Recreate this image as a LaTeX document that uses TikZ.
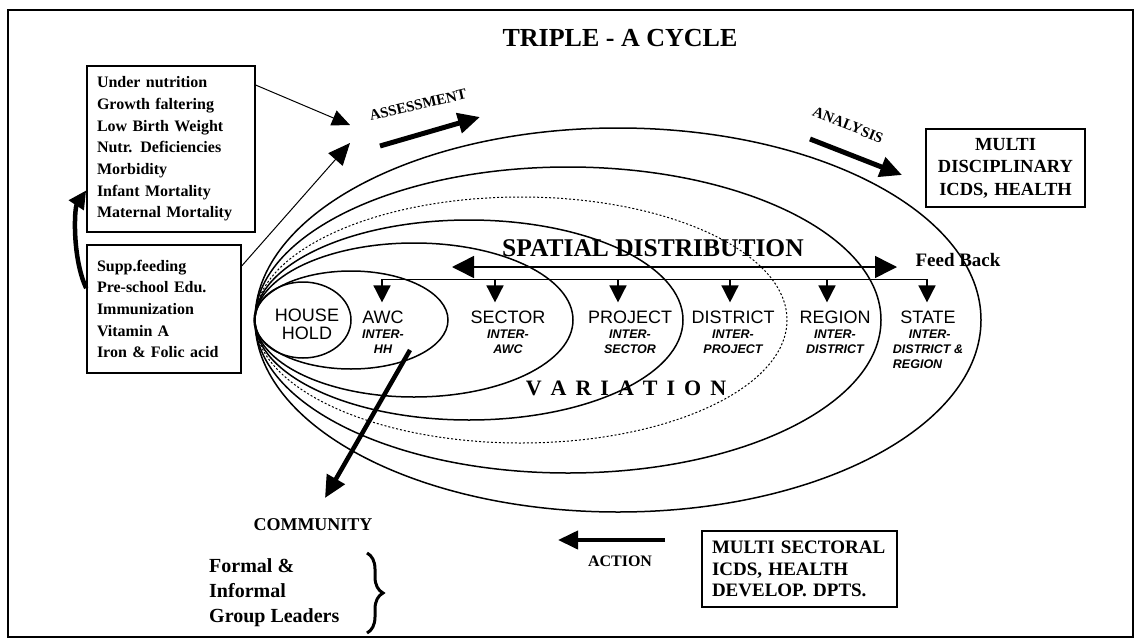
\documentclass[tikz,border=0pt]{standalone}
\usepackage{fontspec}
\setmainfont{Liberation Serif}
\setsansfont{Liberation Sans}
\usetikzlibrary{arrows.meta,positioning,calc,decorations.pathreplacing}

\newcommand{\setfs}[2]{\fontsize{#1pt}{#2pt}\selectfont}

\begin{document}
\begin{tikzpicture}[x=1pt,y=-1pt,
      every node/.style={inner sep=1pt},
      box/.style={draw,line width=1.6pt,inner xsep=10pt,inner ysep=4pt},
      lst/.style={font=\bfseries\setfs{16}{21.7},align=left},
      tag/.style={font=\sffamily\setfs{18}{18}},
      sub/.style={font=\sffamily\bfseries\itshape\setfs{12.5}{15},align=center},
      ring/.style={line width=1.5pt},
      thin/.style={-{Triangle[length=18pt,width=16pt]},line width=1pt},
      fat/.style={-{Triangle[length=22pt,width=20pt]},line width=5pt},
      drop/.style={-{Triangle[length=17pt,width=17pt]},line width=1.5pt},
    ]
      \useasboundingbox (0,0) rectangle (1140,640);
      \draw[line width=2pt] (8,10) rectangle (1133,637);

      \node[font=\bfseries\setfs{26}{30}] (title) at (620,38) {TRIPLE - A CYCLE};

      % nested levels, all meeting at the household end
      \foreach \cx/\rx/\ry in {303/48/38,351/97/49,414/159/77,469/214/100,568/313/153,618/363/192}
        \draw[ring] (\cx,320) ellipse [x radius=\rx,y radius=\ry];
      \draw[line width=1pt,dash pattern=on 2pt off 2pt] (521,320) ellipse [x radius=266,y radius=123];

      \node[tag,align=center] (hh)       at (307,324) {HOUSE\\HOLD};
      \node[tag]              (awc)      at (383,317) {AWC};
      \node[tag]              (sector)   at (508,317) {SECTOR};
      \node[tag]              (project)  at (630,317) {PROJECT};
      \node[tag]              (district) at (733,317) {DISTRICT};
      \node[tag]              (region)   at (835,317) {REGION};
      \node[tag]              (state)    at (928,317) {STATE};

      \node[sub,below=4pt of awc]      (awcs)  {INTER-\\HH};
      \node[sub,below=4pt of sector]   (secs)  {INTER-\\AWC};
      \node[sub,below=4pt of project]  (pros)  {INTER-\\SECTOR};
      \node[sub,below=4pt of district] (diss)  {INTER-\\PROJECT};
      \node[sub,below=4pt of region]   (regs)  {INTER-\\DISTRICT};
      \node[sub,align=left,below=4pt of state] (stas) {\hspace*{16pt}INTER-\\DISTRICT \&\\REGION};

      % distribution bus
      \draw[line width=1.5pt] ($(awc.north)+(-1,-30)$) -- ($(state.north)+(-1,-30)$);
      \foreach \n/\dx in {awc/-1,sector/-13,project/-12,district/-3,region/-8,state/-1}
        \draw[drop] ($(\n.north)+(\dx,-30)$) -- ($(\n.north)+(\dx,-7)$);

      \node[font=\bfseries\setfs{25.5}{28}] (spatial) at (653,248) {SPATIAL DISTRIBUTION};
      \coordinate (fbl) at (452,267);
      \coordinate (fbr) at (897,267);
      \draw[{Triangle[length=22pt,width=22pt]}-{Triangle[length=22pt,width=22pt]},line width=1.5pt] (fbl) -- (fbr);
      \node[font=\bfseries\setfs{19}{22}] (feed) at (958,260) {Feed Back};

      \node[font=\bfseries\setfs{22}{26}] (variation) at (626,388)
        {V\kern9pt A\kern9pt R\kern9pt I\kern9pt A\kern9pt T\kern9pt I\kern9pt O\kern9pt N};

      % left boxes
      \node[box,lst,text width=148pt,minimum height=166pt] (indic) at (171,149)
        {Under nutrition\\Growth faltering\\Low Birth Weight\\Nutr. Deficiencies\\Morbidity\\Infant Mortality\\Maternal Mortality};
      \node[box,lst,text width=134pt,minimum height=128pt] (interv) at (164,309)
        {Supp.feeding\\Pre-school Edu.\\Immunization\\Vitamin A\\Iron \& Folic acid};
      \draw[-{Triangle[length=18pt,width=17pt]},line width=4.5pt]
        (interv.165) .. controls +(-14,-30) and +(-12,18) .. (indic.206);

      % assessment
      \coordinate (asma) at (350,125);
      \coordinate (asmb) at (350,143);
      \draw[thin] (indic.37) -- (asma);
      \draw[-{Triangle[length=22pt,width=19pt]},line width=1pt] (interv.29) -- (asmb);
      \node[font=\bfseries\setfs{15}{17},rotate=13] (assess) at (418,105) {ASSESSMENT};
      \coordinate (as1) at (380,146);
      \coordinate (as2) at (480,117);
      \draw[fat] (as1) -- (as2);

      % analysis
      \node[font=\bfseries\setfs{15}{17},rotate=-22] (analysis) at (848,125) {ANALYSIS};
      \coordinate (an1) at (810,139);
      \coordinate (an2) at (902,175);
      \draw[fat] (an1) -- (an2);
      \node[box,font=\bfseries\setfs{18.5}{22.5},align=center,text width=139pt,minimum height=78pt] (multidisc) at (1005.5,168)
        {MULTI\\DISCIPLINARY\\ICDS, HEALTH};

      % action
      \node[box,font=\bfseries\setfs{19}{21.5},align=left,text width=175pt,minimum height=76pt] (multisect) at (799.5,569)
        {MULTI SECTORAL\\ICDS, HEALTH\\DEVELOP. DPTS.};
      \coordinate (ac1) at (665,540);
      \coordinate (ac2) at (558,540);
      \draw[-{Triangle[length=20pt,width=18pt]},line width=4pt] (ac1) -- (ac2);
      \node[font=\bfseries\setfs{16}{18}] (action) at (620,561) {ACTION};

      % community
      \node[font=\bfseries\setfs{18}{20}] (community) at (313,525) {COMMUNITY};
      \coordinate (awcout) at (410,350);
      \coordinate (cmtop) at (325,498);
      \draw[fat,line width=4.5pt] (awcout) -- (cmtop);
      \node[font=\bfseries\setfs{20}{25},align=left,anchor=west] (leaders) at (208,593)
        {Formal \&\\Informal\\Group Leaders};
      \draw[decorate,decoration={brace,amplitude=16pt},line width=3pt] (367,553) -- (367,633);
    \end{tikzpicture}
\end{document}
